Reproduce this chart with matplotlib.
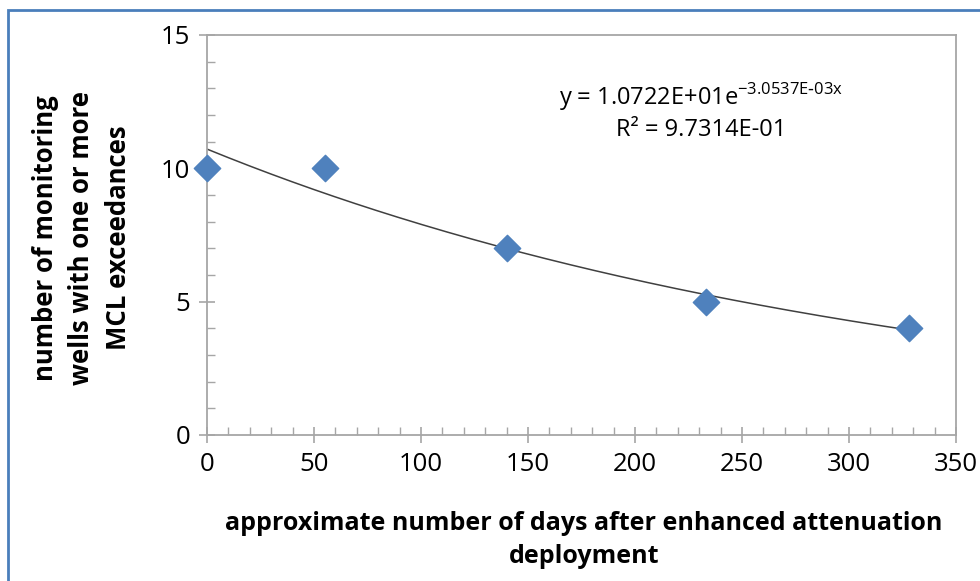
import numpy as np
import matplotlib
matplotlib.use("Agg")
import matplotlib.pyplot as plt
from matplotlib.patches import Rectangle
from matplotlib.ticker import MultipleLocator

days = [0, 55, 140, 233, 328]
wells = [10, 10, 7, 5, 4]
fit_a = 10.722
fit_b = -3.0537e-03

plt.rcParams["font.family"] = ["Open Sans", "DejaVu Sans"]

fig = plt.figure(figsize=(9.8, 5.81), dpi=100)
fig.patches.append(Rectangle((8 / 980, -0.1), 1.2, 1 - 10 / 581 + 0.1,
                             transform=fig.transFigure, fill=False,
                             edgecolor="#4a7ebb", linewidth=2))
ax = fig.add_axes([207 / 980, 1 - 435 / 581, 749 / 980, 400 / 581])

xs = np.linspace(0, max(days), 200)
ax.plot(xs, fit_a * np.exp(fit_b * xs), color="#404040", lw=1.1, zorder=2)
ax.scatter(days, wells, marker="D", s=180, color="#4f81bd", zorder=3, clip_on=False)

ax.set_xlim(0, 350)
ax.set_ylim(0, 15)
ax.xaxis.set_major_locator(MultipleLocator(50))
ax.xaxis.set_minor_locator(MultipleLocator(10))
ax.yaxis.set_major_locator(MultipleLocator(5))
ax.yaxis.set_minor_locator(MultipleLocator(1))
for s in ax.spines.values():
    s.set_color("#a6a6a6")
    s.set_linewidth(1.3)
ax.tick_params(which="major", direction="inout", length=12, width=1.2, color="#a6a6a6",
               labelsize=18.5, pad=6)
ax.tick_params(which="minor", direction="in", length=6, width=1.0, color="#a6a6a6")
ax.tick_params(axis="x", pad=6)

ax.set_xlabel("approximate number of days after enhanced attenuation\ndeployment",
              fontsize=18, fontweight="bold", linespacing=1.45)
ax.xaxis.label.set_va("center")
ax.xaxis.set_label_coords(0.503, -0.262)
ax.set_ylabel("number of monitoring\nwells with one or more\nMCL exceedances",
              fontsize=18.5, fontweight="bold", linespacing=1.45)
ax.yaxis.label.set_va("center")
ax.yaxis.set_label_coords(-0.167, 0.493)

ax.text(0.66, 0.845, r"y = 1.0722E+01e$^{\mathregular{-3.0537E\text{-}03x}}$",
        transform=ax.transAxes, ha="center", va="center", fontsize=17)
ax.text(0.66, 0.763, "R² = 9.7314E-01", transform=ax.transAxes,
        ha="center", va="center", fontsize=17)

fig.savefig("out.png", dpi=100)
